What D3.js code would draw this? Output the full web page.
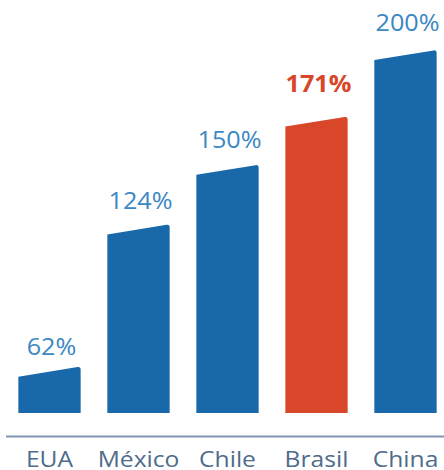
<!DOCTYPE html>
<html>
<head>
<meta charset="utf-8">
<script src="https://cdn.jsdelivr.net/npm/d3@7"></script>
<style>
  body { margin: 0; background: #fff; }
  svg { display: block; }
</style>
</head>
<body>
<div id="canvas"></div>
<script>
"use strict"

let svgWidth = 444;
let svgHeight = 470;

/* data */
let categories = ["EUA", "México", "Chile", "Brasil", "China"];
let values = [62, 124, 150, 171, 200];
let valueLabels = ["62%", "124%", "150%", "171%", "200%"];
let highlight = "Brasil";

let blue = "#1868aa";
let red = "#d8472a";

let svg = d3.select("#canvas")
    .append("svg")
    .attr("width", svgWidth)
    .attr("height", svgHeight);

/* Scales */
let xScale = d3.scaleBand()
    .domain(categories)
    .range([5, 450])
    .paddingInner(0.3)
    .paddingOuter(0.15);

// baseline is not zero, bars start from ~44
let yScale = d3.scaleLinear()
    .domain([44, 200])
    .range([413, 55]);

// value labels sit a bit higher as the bars grow
let labelScale = d3.scaleLinear()
    .domain([44, 200])
    .range([397, 31]);

let slant = 5;

let rows = categories.map((c, i) => ({cat: c, value: values[i], label: valueLabels[i]}));

/* Bars with slanted tops */
svg.selectAll("path.bar")
    .data(rows)
    .join("path")
    .attr("class", "bar")
    .attr("d", function(d) {
        let x0 = xScale(d.cat);
        let x1 = x0 + xScale.bandwidth();
        let yb = yScale.range()[0];
        let yt = yScale(d.value);
        let p = d3.path();
        p.moveTo(x0, yb);
        p.lineTo(x0, yt + slant);
        p.lineTo(x1 - 3, yt - slant + 0.4);
        p.quadraticCurveTo(x1, yt - slant, x1, yt - slant + 3);
        p.lineTo(x1, yb);
        p.closePath();
        return p.toString();
    })
    .attr("fill", d => d.cat === highlight ? red : blue);

/* Value labels (type in the original is a bit wider, so stretch a little) */
svg.selectAll("text.value")
    .data(rows)
    .join("text")
    .attr("class", "value")
    .attr("transform", d => "translate(" + (xScale(d.cat) + xScale.bandwidth() / 2 + 2) + ","
        + (labelScale(d.value) - (d.cat === highlight ? 7 : 0)) + ") scale(1.05,1)")
    .attr("text-anchor", "middle")
    .attr("font-family", "'Open Sans', sans-serif")
    .attr("font-size", 24)
    .attr("font-weight", d => d.cat === highlight ? "bold" : "normal")
    .attr("fill", d => d.cat === highlight ? red : "#3b88c3")
    .text(d => d.label);

/* Axis line */
svg.append("line")
    .attr("x1", 6)
    .attr("x2", svgWidth)
    .attr("y1", 436.5)
    .attr("y2", 436.5)
    .attr("stroke", "#7f95b1")
    .attr("stroke-width", 2);

/* Category labels */
svg.selectAll("text.cat")
    .data(rows)
    .join("text")
    .attr("class", "cat")
    .attr("transform", d => "translate(" + (xScale(d.cat) + xScale.bandwidth() / 2) + ",467) scale(1.12,1)")
    .attr("text-anchor", "middle")
    .attr("font-family", "'Open Sans', sans-serif")
    .attr("font-size", 22)
    .attr("fill", "#4f6b8b")
    .text(d => d.cat);
</script>
</body>
</html>
